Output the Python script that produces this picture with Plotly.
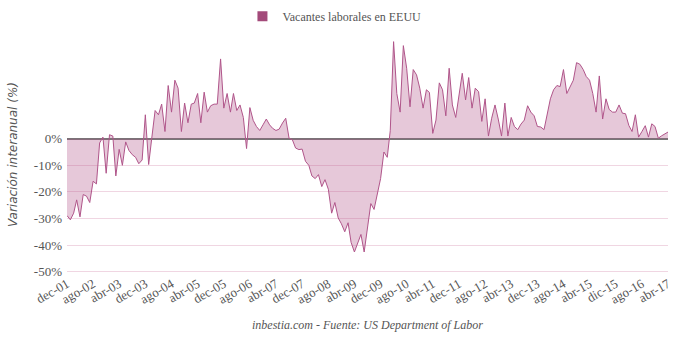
import pandas as pd
import plotly.graph_objects as go

# Monthly dates Dec-2001 .. Apr-2017
months = pd.date_range("2001-12-01", "2017-04-01", freq="MS")

# Year-over-year variation of US job openings (%)
values = [
    -28.9, -30.5, -28, -23, -29.4, -21, -21.6, -24, -16, -17,
    -1.6, 0.6, -13, 1.5, 1, -14, -4, -10, -1.2, -4.4,
    -6, -7, -9.4, -8, 9, -9.7, 1, 10.6, 9, 13,
    2.7, 20, 10, 22, 19, 2.7, 13.4, 6, 13, 13.4,
    17, 6, 17.5, 10, 12.4, 13, 13, 30, 11.5, 17,
    10, 17, 10.6, 12.7, 8, -3.7, 11.7, 6.9, 4.6, 3.1,
    5.2, 7.4, 5.2, 3.9, 3.1, 3.6, 5.9, 7.7, 0.2, -0.4,
    -3.5, -4.1, -3.9, -8.5, -10, -14, -15, -13.5, -18, -15.4,
    -19, -28, -24, -29.8, -32, -35, -31.6, -39, -42.6, -39,
    -36, -42.6, -33, -24.4, -26.6, -21, -15, -5, -7, 3,
    36.5, 17, 10, 35, 26.5, 12, 26, 24, 19, 11.5,
    18.4, 17.4, 2, 7, 21, 18.4, 8.6, 26.5, 12.7, 8,
    17, 24.6, 14.6, 23, 11.5, 19, 17.7, 6.5, 15, 1,
    7.7, 12.7, 7.4, 1, 13.4, 1, 8, 4.6, 3.4, 5.5,
    7, 12.4, 10, 8.6, 4.6, 4.4, 3.4, 8.4, 15, 18.4,
    20, 19.6, 26, 17, 19.4, 22, 28.6, 28, 26, 23.4,
    22, 17, 10, 23.6, 7.4, 15, 11, 10, 10, 12.7,
    9.6, 9.4, 5, 2.7, 9, 0.6, 2.7, 4.9, 0.6, 5.6,
    4.6, 0.2, 1.1, 1.9, 2.5,
]

tick_labels = ["dec-01", "ago-02", "abr-03", "dec-03", "ago-04", "abr-05",
               "dec-05", "ago-06", "abr-07", "dec-07", "ago-08", "abr-09",
               "dec-09", "ago-10", "abr-11", "dec-11", "ago-12", "abr-13",
               "dec-13", "ago-14", "abr-15", "dic-15", "ago-16", "abr-17"]
tick_dates = list(months[::8])

y_ticks = [0, -10, -20, -30, -40, -50]
y_tick_labels = ["0%", "-10%", "-20%", "-30%", "-40%", "-50%"]

series_name = "Vacantes laborales en EEUU"
line_color = "#b0558a"
fill_color = "rgba(176,85,138,0.32)"
font_family = "Liberation Serif"
text_color = "#555555"

fig = go.Figure()
fig.add_trace(go.Scatter(
    x=months, y=values, mode="lines", fill="tozeroy",
    line=dict(color=line_color, width=1), fillcolor=fill_color,
    showlegend=False, hoverinfo="x+y",
))
fig.add_trace(go.Scatter(
    x=[None], y=[None], mode="markers", name=series_name,
    marker=dict(symbol="square", size=10, color="#a34a7a"),
))

fig.update_layout(
    width=680, height=339,
    margin=dict(l=67, r=12, t=35, b=66, autoexpand=False),
    paper_bgcolor="white", plot_bgcolor="white",
    font=dict(family=font_family, size=13, color=text_color),
    showlegend=True,
    legend=dict(orientation="h", x=0.445, xanchor="center", y=0.995, yanchor="top",
                yref="container", font=dict(family=font_family, size=12, color=text_color)),
    xaxis=dict(
        range=[months[0], months[-1]],
        tickmode="array", tickvals=tick_dates, ticktext=tick_labels,
        tickangle=-30, showgrid=False, zeroline=False, showline=False,
        ticks="", tickfont=dict(family=font_family, size=13, color=text_color),
    ),
    yaxis=dict(
        range=[-50.5, 39],
        tickmode="array", tickvals=y_ticks, ticktext=y_tick_labels,
        showgrid=True, gridcolor="#f0d6e2", gridwidth=1,
        zeroline=True, zerolinecolor="#777777", zerolinewidth=2,
        ticks="", tickfont=dict(family=font_family, size=13, color=text_color),
        ticklabelstandoff=4,
    ),
    annotations=[
        dict(text="<i>Variación interanual (%)</i>", xref="paper", yref="paper",
             x=-0.09, y=0.5, textangle=-90, showarrow=False,
             xanchor="center", yanchor="middle",
             font=dict(family="DejaVu Sans", size=12, color=text_color)),
        dict(text="<i>inbestia.com - Fuente: US Department of Labor</i>",
             xref="paper", yref="paper", x=0.5, y=-0.218,
             showarrow=False, xanchor="center", yanchor="middle",
             font=dict(family=font_family, size=12, color=text_color)),
    ],
)

fig.write_html("out.html")
